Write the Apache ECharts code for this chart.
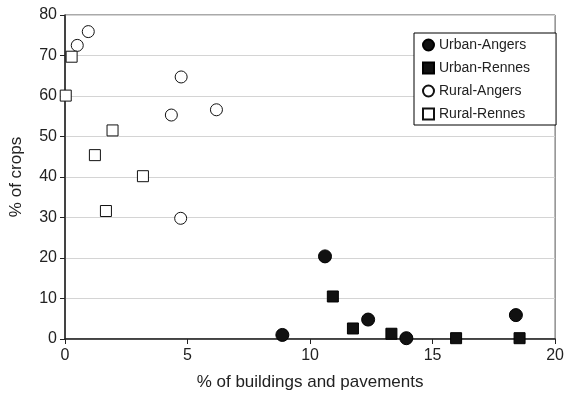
<!DOCTYPE html>
<html>
<head>
<meta charset="utf-8">
<script src="https://cdn.jsdelivr.net/npm/echarts@6/dist/echarts.min.js"></script>
<style>html,body{margin:0;padding:0;background:#fff}#c{width:567px;height:396px}</style>
</head>
<body>
<div id="c"></div>
<script>
// Data
var urbanAngersX = [8.87, 10.61, 12.37, 13.93, 18.4];
var urbanAngersY = [1.0, 20.4, 4.8, 0.2, 5.9];
var urbanRennesX = [10.93, 11.75, 13.32, 15.96, 18.55];
var urbanRennesY = [10.5, 2.6, 1.3, 0.2, 0.2];
var ruralAngersX = [0.5, 0.95, 4.74, 4.34, 6.18, 4.72];
var ruralAngersY = [72.5, 75.9, 64.7, 55.3, 56.6, 29.8];
var ruralRennesX = [0.27, 0.03, 1.94, 1.22, 3.18, 1.67];
var ruralRennesY = [69.7, 60.1, 51.5, 45.4, 40.2, 31.6];
var seriesNames = ['Urban-Angers', 'Urban-Rennes', 'Rural-Angers', 'Rural-Rennes'];

function pts(xs, ys) { return xs.map(function (x, i) { return [x, ys[i]]; }); }

var font = 'Liberation Sans, Arial, Helvetica, sans-serif';
var chart = echarts.init(document.getElementById('c'), null, {renderer: 'canvas'});
chart.setOption({
  animation: false,
  backgroundColor: '#fff',
  grid: {left: 65, top: 15, right: 10, bottom: 53, containLabel: false,
         show: true, borderColor: '#555', borderWidth: 1, backgroundColor: 'transparent'},
  legend: {
    orient: 'vertical', left: 414, top: 33,
    data: seriesNames,
    backgroundColor: '#fff', borderColor: '#000', borderWidth: 1, borderRadius: 0,
    padding: [5, 26, 4, 8], itemGap: 9, itemWidth: 11, itemHeight: 11, itemTextGap: 5,
    textStyle: {fontFamily: font, fontSize: 14, color: '#222'}
  },
  xAxis: {
    type: 'value', min: 0, max: 20, interval: 5,
    name: '% of buildings and pavements', nameLocation: 'middle', nameGap: 35,
    nameTextStyle: {fontFamily: font, fontSize: 17, color: '#222'},
    axisLine: {show: true, lineStyle: {color: '#222', width: 1.5}},
    axisTick: {show: true, length: 5, inside: false, lineStyle: {color: '#222'}},
    axisLabel: {fontFamily: font, fontSize: 16, color: '#222', margin: 9},
    splitLine: {show: false}
  },
  yAxis: {
    type: 'value', min: 0, max: 80, interval: 10,
    name: '% of crops', nameLocation: 'middle', nameGap: 40, nameRotate: 90,
    nameTextStyle: {fontFamily: font, fontSize: 17, color: '#222'},
    axisLine: {show: true, lineStyle: {color: '#222', width: 1.5}},
    axisTick: {show: true, length: 5, inside: false, lineStyle: {color: '#222'}},
    axisLabel: {fontFamily: font, fontSize: 16, color: '#222', margin: 8},
    splitLine: {show: true, lineStyle: {color: '#d4d4d4', width: 1}}
  },
  series: [
    {name: seriesNames[0], type: 'scatter', symbol: 'circle', symbolSize: 13,
     itemStyle: {color: '#111', borderColor: '#000', borderWidth: 1, opacity: 1},
     data: pts(urbanAngersX, urbanAngersY), z: 5},
    {name: seriesNames[1], type: 'scatter', symbol: 'rect', symbolSize: 11,
     itemStyle: {color: '#111', borderColor: '#000', borderWidth: 1, opacity: 1},
     data: pts(urbanRennesX, urbanRennesY), z: 5},
    {name: seriesNames[2], type: 'scatter', symbol: 'circle', symbolSize: 12,
     itemStyle: {color: '#fff', borderColor: '#111', borderWidth: 1, opacity: 1},
     data: pts(ruralAngersX, ruralAngersY), z: 5},
    {name: seriesNames[3], type: 'scatter', symbol: 'rect', symbolSize: 11,
     itemStyle: {color: '#fff', borderColor: '#111', borderWidth: 1, opacity: 1},
     data: pts(ruralRennesX, ruralRennesY), z: 5}
  ]
});
</script>
</body>
</html>
